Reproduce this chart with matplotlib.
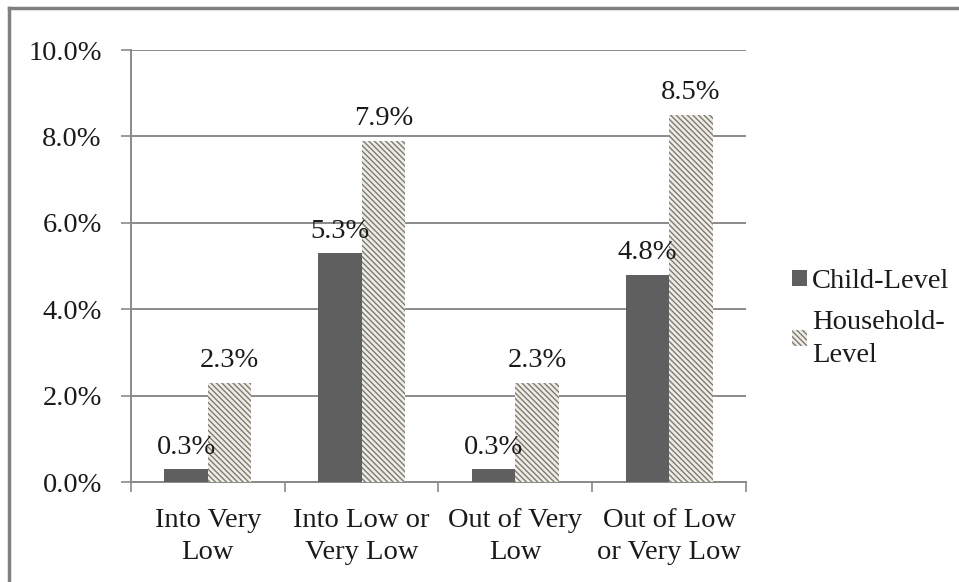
import numpy as np
import matplotlib.pyplot as plt
from matplotlib.lines import Line2D

plt.rcParams['font.family'] = ['Liberation Serif', 'DejaVu Serif']
plt.rcParams['hatch.linewidth'] = 1.0

categories = ['Into Very\nLow', 'Into Low or\nVery Low', 'Out of Very\nLow', 'Out of Low\nor Very Low']
child_level = [0.3, 5.3, 0.3, 4.8]
household_level = [2.3, 7.9, 2.3, 8.5]
series_names = ['Child-Level', 'Household-\nLevel']
yticks = [0, 2, 4, 6, 8, 10]

W, H = 959, 582
FS = 20.5
fig = plt.figure(figsize=(W / 100, H / 100), dpi=100)
ax = fig.add_axes([131 / W, 1 - 482 / H, (746 - 131) / W, (482 - 50) / H])

x = np.arange(len(categories))
bw = 0.283
b1 = ax.bar(x - bw / 2, child_level, bw, color='#5f5f5f', linewidth=0, label=series_names[0], zorder=3)
b2 = ax.bar(x + bw / 2, household_level, bw, color='#f0ede0', edgecolor='#7a7a7a',
            hatch='\\\\\\\\\\\\', linewidth=0, label=series_names[1], zorder=3)

for bars, vals in ((b1, child_level), (b2, household_level)):
    for r, v in zip(bars, vals):
        ax.text(r.get_x() + r.get_width() / 2, v + 0.22, f'{v:.1f}%', ha='center', va='bottom',
                fontsize=FS, color='#1a1a1a')

ax.set_xlim(-0.5, len(categories) - 0.5)
ax.set_ylim(0, 10)
ax.set_yticks(yticks)
ax.set_yticklabels([f'{t:.1f}%' for t in yticks])
ax.yaxis.grid(True, color='#8a8a8a', linewidth=1.4, zorder=0)
ax.set_axisbelow(True)

ax.set_xticks(x)
ax.set_xticklabels(categories, linespacing=1.35)
ax.set_xticks(np.arange(-0.5, len(categories)), minor=True)
ax.tick_params(axis='x', which='major', length=0, pad=19, labelsize=FS, colors='#1a1a1a')
ax.tick_params(axis='x', which='minor', length=7, width=1.2, color='#8a8a8a', direction='out')
ax.tick_params(axis='y', length=7, width=1.2, color='#8a8a8a', pad=14, labelsize=FS,
               labelcolor='#1a1a1a')

for s in ['top', 'right']:
    ax.spines[s].set_visible(False)
for s in ['left', 'bottom']:
    ax.spines[s].set_color('#8a8a8a')
    ax.spines[s].set_linewidth(1.4)

leg = fig.legend(handles=[b1, b2], labels=series_names, loc='upper left',
                 bbox_to_anchor=(781 / W, 1 - 258 / H), frameon=False, fontsize=FS,
                 handlelength=0.5, handleheight=0.5, handletextpad=0.2, labelspacing=0.55,
                 borderaxespad=0)
for t in leg.get_texts():
    t.set_color('#1a1a1a')
    t.set_linespacing(1.4)

# outer frame (top and left edges)
fig.add_artist(Line2D([9 / W, 9 / W], [0, 1 - 8 / H], transform=fig.transFigure,
                      color='#808080', linewidth=2.5))
fig.add_artist(Line2D([9 / W, 1], [1 - 8 / H, 1 - 8 / H], transform=fig.transFigure,
                      color='#808080', linewidth=2.5))

fig.savefig('out.png', dpi=100)
